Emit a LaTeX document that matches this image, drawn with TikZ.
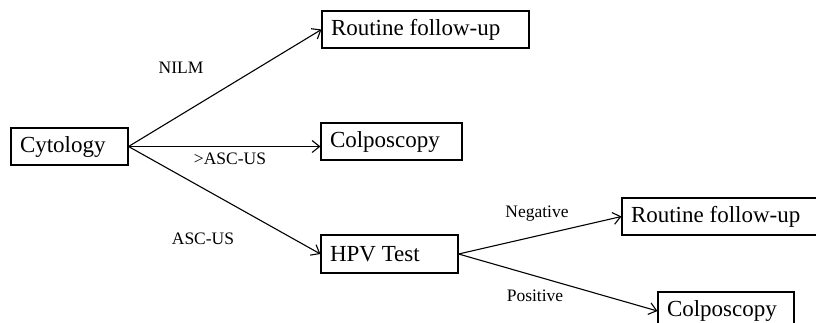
\documentclass[tikz,border=0pt]{standalone}
\usepackage{fontspec}
\setmainfont{Liberation Serif}
\usetikzlibrary{arrows.meta}
\newcommand{\lefttext}[2]{\makebox[#1][l]{#2}}
\begin{document}
\begin{tikzpicture}[x=1pt,y=-1pt,
  box/.style={draw, line width=1.1pt, inner xsep=9pt, inner ysep=0pt,
    font=\fontsize{23}{26}\selectfont},
  lbl/.style={font=\fontsize{17.5}{20}\selectfont, inner sep=0pt},
  arr/.style={line width=1.1pt, -{Straight Barb[length=7.5pt,width=12pt]}}]
\useasboundingbox (0,0) rectangle (816,322);
\clip (0,0) rectangle (816,322);
\node[box, minimum height=37pt] (cyt) at (69.5,146.5) {\lefttext{99pt}{Cytology}};
\node[box, minimum height=37pt] (top) at (425.5,29.5) {\lefttext{189pt}{Routine follow-up}};
\node[box, minimum height=37pt] (mid) at (391.5,141.5) {\lefttext{123pt}{Colposcopy}};
\node[box, minimum height=38pt] (hpv) at (389.5,254) {\lefttext{119pt}{HPV Test}};
\node[box, minimum height=37pt] (rr) at (726,216.5) {\lefttext{190pt}{Routine follow-up}};
\node[box, minimum height=38pt] (bc) at (726,311) {\lefttext{118pt}{Colposcopy}};
\draw[arr] (cyt.east) -- (top.west);
\draw[arr] (cyt.east) -- (cyt.east -| mid.west);
\draw[arr] (cyt.east) -- (hpv.west);
\draw[arr] (hpv.east) -- (rr.west);
\draw[arr] (hpv.east) -- (bc.west);
\node[lbl] (l1) at (181,68) {NILM};
\node[lbl] (l2) at (230,159) {>ASC-US};
\node[lbl] (l3) at (203,239) {ASC-US};
\node[lbl] (l4) at (537,214) {Negative};
\node[lbl] (l5) at (535,296) {Positive};
\end{tikzpicture}
\end{document}
